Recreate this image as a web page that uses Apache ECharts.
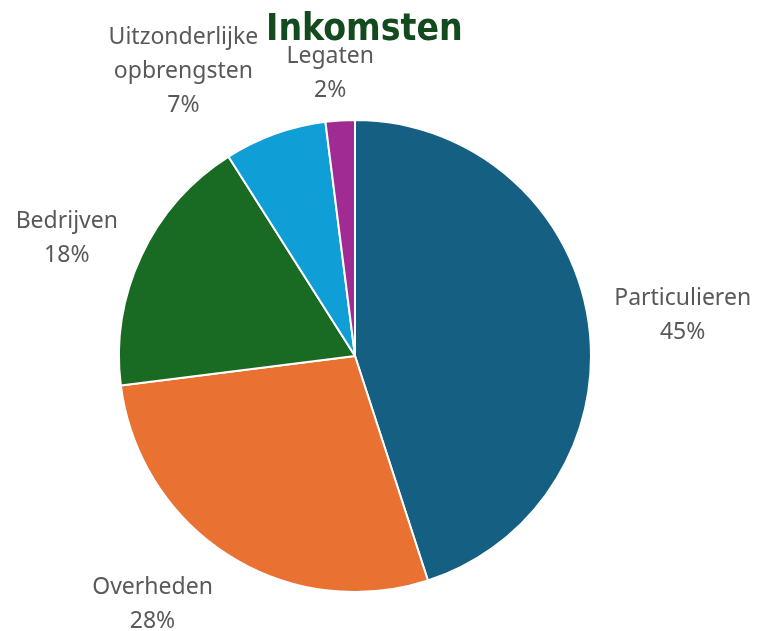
<!DOCTYPE html>
<html>
<head>
<meta charset="utf-8">
<script src="https://cdn.jsdelivr.net/npm/echarts@6/dist/echarts.min.js"></script>
<style>
  html, body { margin: 0; padding: 0; background: #fff; }
  #main { width: 758px; height: 631px; }
</style>
</head>
<body>
<div id="main"></div>
<script>
// categorieen en aandelen (%)
var categories = ['Particulieren', 'Overheden', 'Bedrijven', 'Uitzonderlijke\nopbrengsten', 'Legaten'];
var values = [45, 28, 18, 7, 2];
var colors = ['#156082', '#E97132', '#196B24', '#0F9ED5', '#A02B93'];

var center = [355, 356];
var radius = 236;
// labelpositie: afstand vanaf middelpunt langs de bissectrice, en zijwaartse verschuiving
var labelRadial = [330, 318, 311, 326, 284];
var labelShift = [11, 38, -16, -65, -7];

var total = values.reduce(function (a, b) { return a + b; }, 0);

var chart = echarts.init(document.getElementById('main'), null, { renderer: 'canvas' });

var pieData = categories.map(function (c, i) {
	return { name: c, value: values[i], itemStyle: { color: colors[i] } };
});

function placeLabel(params) {
	var idx = params.dataIndex;
	var before = 0;
	for (var i = 0; i < idx; i++) {
		before += values[i];
	}
	var mid = (before + values[idx] / 2) / total * Math.PI * 2;
	var dx = Math.sin(mid), dy = -Math.cos(mid);
	var tx = Math.cos(mid), ty = Math.sin(mid);
	return {
		x: center[0] + dx * labelRadial[idx] + tx * labelShift[idx],
		y: center[1] + dy * labelRadial[idx] + ty * labelShift[idx],
		align: 'center',
		verticalAlign: 'middle'
	};
}

chart.setOption({
	animation: false,
	title: {
		text: 'Inkomsten',
		left: 261,
		top: 7,
		textStyle: {
			fontFamily: '"DejaVu Sans Condensed", sans-serif',
			fontWeight: 'bold',
			fontSize: 37,
			color: '#134A1E'
		}
	},
	series: [{
		type: 'pie',
		center: center,
		radius: radius,
		startAngle: 90,
		clockwise: true,
		data: pieData,
		itemStyle: { borderColor: '#ffffff', borderWidth: 2 },
		label: {
			show: true,
			position: 'outside',
			formatter: '{b}\n{d}%',
			fontFamily: '"Noto Sans", sans-serif',
			fontSize: 23,
			lineHeight: 34,
			overflow: 'none',
			color: '#595959'
		},
		labelLine: { show: false },
		labelLayout: placeLabel,
		emphasis: { disabled: true }
	}]
});
</script>
</body>
</html>
